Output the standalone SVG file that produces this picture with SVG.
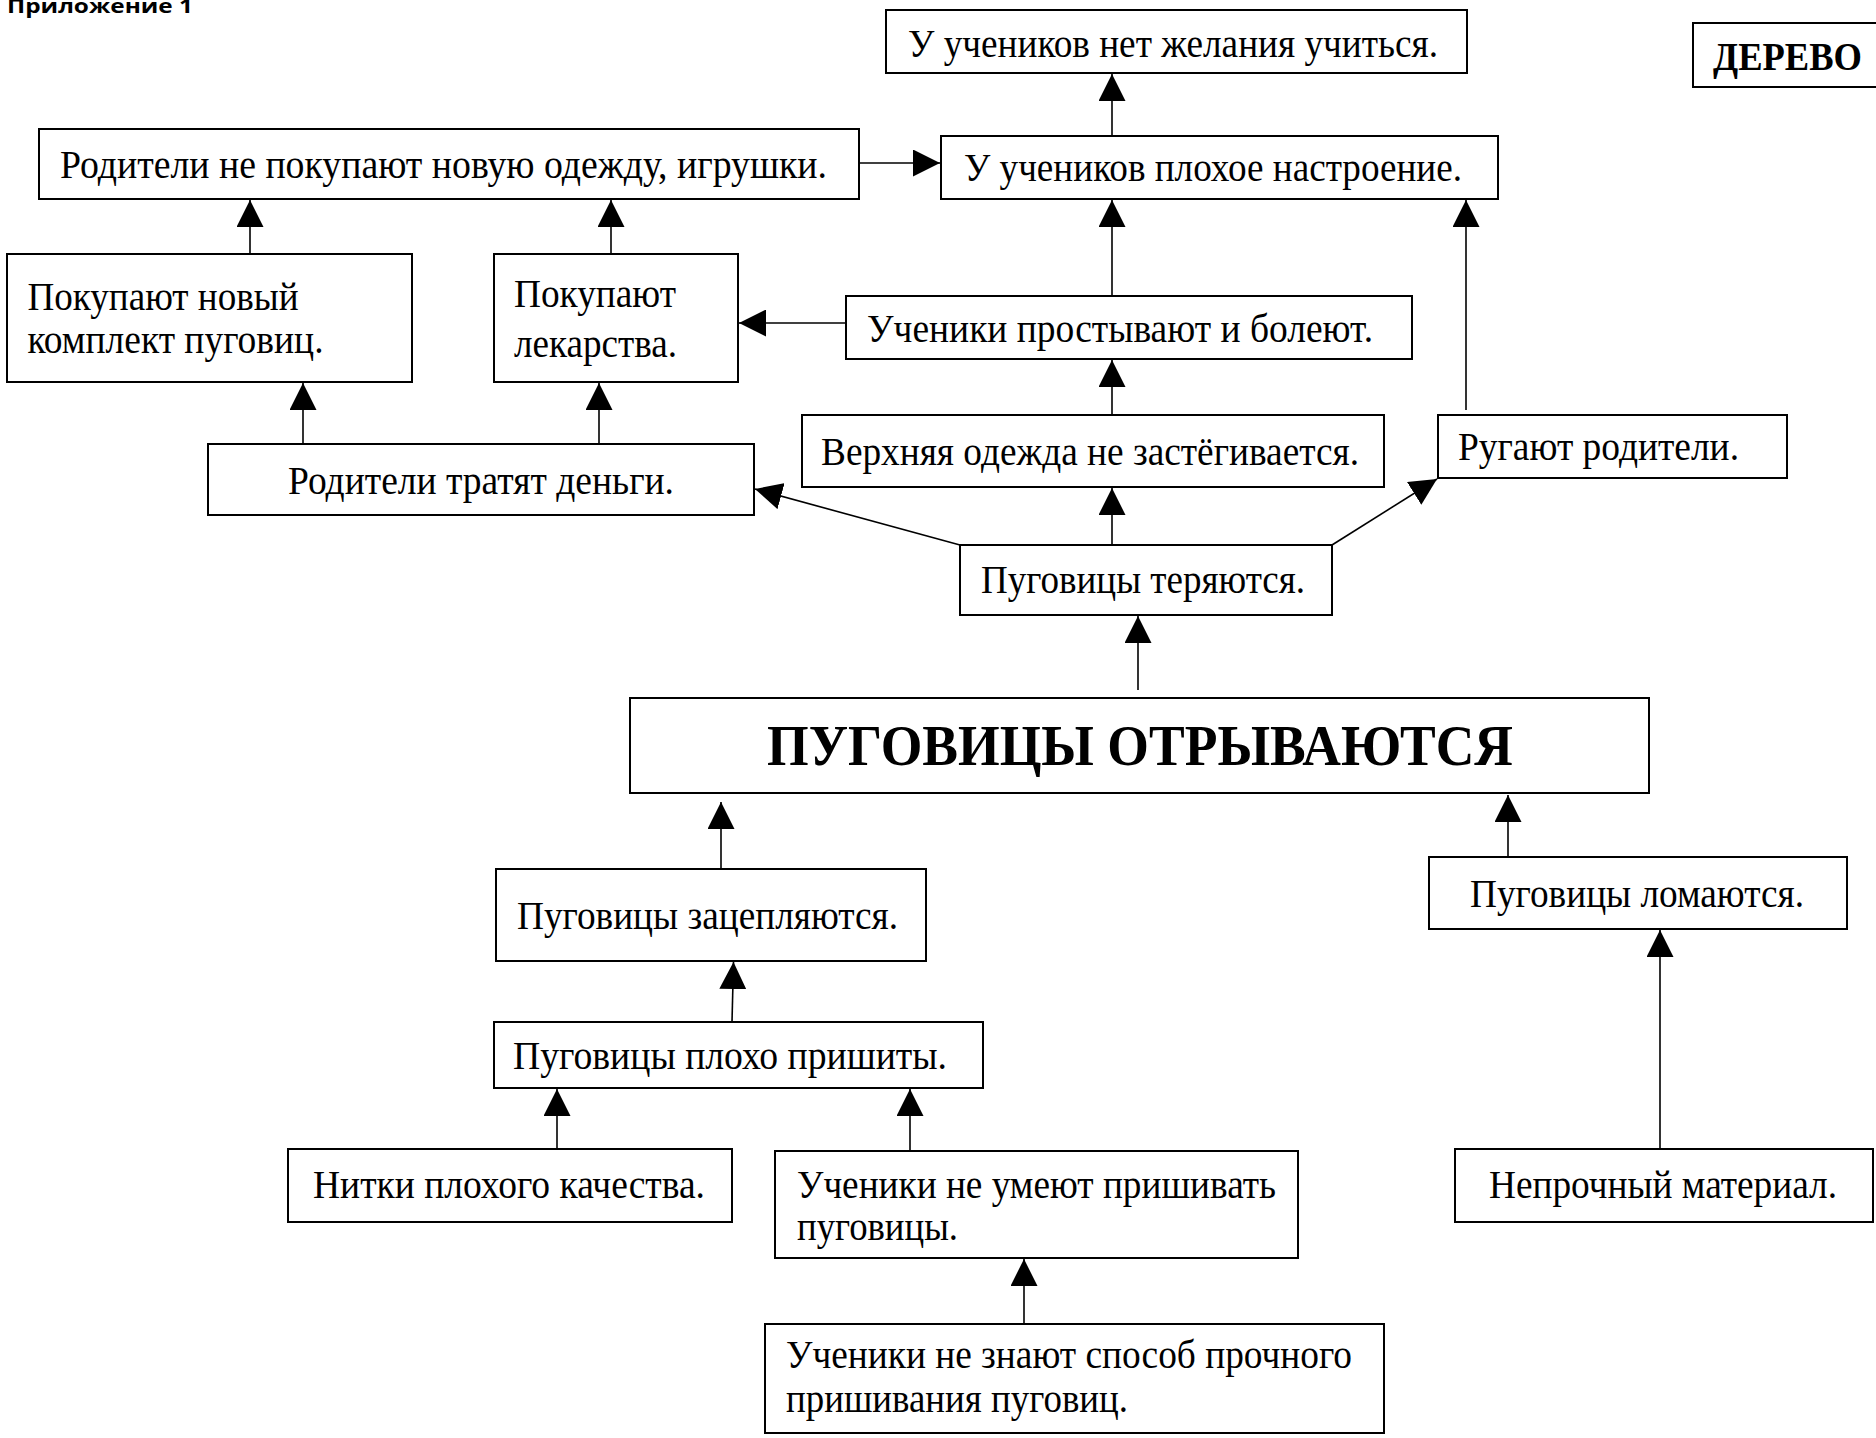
<svg xmlns="http://www.w3.org/2000/svg" width="1876" height="1438" viewBox="0 0 1876 1438">
<style>
.box{fill:#fff;stroke:#000;stroke-width:2}
.t{font-family:"Liberation Serif","Times New Roman",serif;font-size:40px;fill:#000}
.tb{font-family:"Liberation Serif","Times New Roman",serif;font-weight:bold;fill:#000}
.c{stroke:#000;stroke-width:1.6;fill:none;marker-end:url(#ah)}
</style>
<defs>
<marker id="ah" markerUnits="userSpaceOnUse" markerWidth="28" markerHeight="27" refX="27" refY="13.5" orient="auto">
<path d="M0,0 L27,13.5 L0,27 z" fill="#000"/>
</marker>
</defs>
<rect width="1876" height="1438" fill="#fff"/>
<text x="7" y="13" font-family="'Open Sans','Liberation Sans',sans-serif" font-weight="bold" font-size="20" textLength="186" lengthAdjust="spacingAndGlyphs">Приложение 1</text>

<g id="n-title">
<rect class="box" x="1693" y="23" width="200" height="64"/>
<text class="tb" x="1713" y="70" font-size="39" textLength="149" lengthAdjust="spacingAndGlyphs">ДЕРЕВО</text>
</g>
<g id="n-net-zhelaniya">
<rect class="box" x="886" y="10" width="581" height="63"/>
<text class="t" x="908" y="57" textLength="530" lengthAdjust="spacingAndGlyphs">У учеников нет желания учиться.</text>
</g>
<g id="n-nastroenie">
<rect class="box" x="941" y="136" width="557" height="63"/>
<text class="t" x="964" y="181" textLength="498" lengthAdjust="spacingAndGlyphs">У учеников плохое настроение.</text>
</g>
<g id="n-ne-pokupayut">
<rect class="box" x="39" y="129" width="820" height="70"/>
<text class="t" x="60" y="178" textLength="767" lengthAdjust="spacingAndGlyphs">Родители не покупают новую одежду, игрушки.</text>
</g>
<g id="n-komplekt">
<rect class="box" x="7" y="254" width="405" height="128"/>
<text class="t" x="27.5" y="310" textLength="271" lengthAdjust="spacingAndGlyphs">Покупают новый</text>
<text class="t" x="27.5" y="353" textLength="296" lengthAdjust="spacingAndGlyphs">комплект пуговиц.</text>
</g>
<g id="n-lekarstva">
<rect class="box" x="494" y="254" width="244" height="128"/>
<text class="t" x="514" y="307" textLength="162" lengthAdjust="spacingAndGlyphs">Покупают</text>
<text class="t" x="514" y="357" textLength="163" lengthAdjust="spacingAndGlyphs">лекарства.</text>
</g>
<g id="n-prostyvayut">
<rect class="box" x="846" y="296" width="566" height="63"/>
<text class="t" x="867" y="342" textLength="506" lengthAdjust="spacingAndGlyphs">Ученики простывают и болеют.</text>
</g>
<g id="n-tratyat">
<rect class="box" x="208" y="444" width="546" height="71"/>
<text class="t" x="288" y="494" textLength="386" lengthAdjust="spacingAndGlyphs">Родители тратят деньги.</text>
</g>
<g id="n-verkhnyaya">
<rect class="box" x="802" y="415" width="582" height="72"/>
<text class="t" x="821" y="465" textLength="538" lengthAdjust="spacingAndGlyphs">Верхняя одежда не застёгивается.</text>
</g>
<g id="n-rugayut">
<rect class="box" x="1438" y="415" width="349" height="63"/>
<text class="t" x="1458" y="460" textLength="281" lengthAdjust="spacingAndGlyphs">Ругают родители.</text>
</g>
<g id="n-teryayutsya">
<rect class="box" x="960" y="545" width="372" height="70"/>
<text class="t" x="981" y="593" textLength="324" lengthAdjust="spacingAndGlyphs">Пуговицы теряются.</text>
</g>
<g id="n-main">
<rect class="box" x="630" y="698" width="1019" height="95"/>
<text class="tb" x="767" y="765" font-size="56" textLength="746" lengthAdjust="spacingAndGlyphs">ПУГОВИЦЫ ОТРЫВАЮТСЯ</text>
</g>
<g id="n-zatseplyayutsya">
<rect class="box" x="496" y="869" width="430" height="92"/>
<text class="t" x="517" y="929" textLength="381" lengthAdjust="spacingAndGlyphs">Пуговицы зацепляются.</text>
</g>
<g id="n-lomayutsya">
<rect class="box" x="1429" y="857" width="418" height="72"/>
<text class="t" x="1470" y="907" textLength="334" lengthAdjust="spacingAndGlyphs">Пуговицы ломаются.</text>
</g>
<g id="n-prishity">
<rect class="box" x="494" y="1022" width="489" height="66"/>
<text class="t" x="513" y="1069" textLength="434" lengthAdjust="spacingAndGlyphs">Пуговицы плохо пришиты.</text>
</g>
<g id="n-nitki">
<rect class="box" x="288" y="1149" width="444" height="73"/>
<text class="t" x="313" y="1198" textLength="392" lengthAdjust="spacingAndGlyphs">Нитки плохого качества.</text>
</g>
<g id="n-ne-umeyut">
<rect class="box" x="775" y="1151" width="523" height="107"/>
<text class="t" x="797" y="1198" textLength="479" lengthAdjust="spacingAndGlyphs">Ученики не умеют пришивать</text>
<text class="t" x="797" y="1240" textLength="161" lengthAdjust="spacingAndGlyphs">пуговицы.</text>
</g>
<g id="n-neprochny">
<rect class="box" x="1455" y="1149" width="418" height="73"/>
<text class="t" x="1489" y="1198" textLength="348" lengthAdjust="spacingAndGlyphs">Непрочный материал.</text>
</g>
<g id="n-ne-znayut">
<rect class="box" x="765" y="1324" width="619" height="109"/>
<text class="t" x="786" y="1368" textLength="566" lengthAdjust="spacingAndGlyphs">Ученики не знают способ прочного</text>
<text class="t" x="786" y="1412" textLength="342" lengthAdjust="spacingAndGlyphs">пришивания пуговиц.</text>
</g>

<g id="connectors">
<line class="c" x1="859" y1="163" x2="940" y2="163"/>
<line class="c" x1="1112" y1="136" x2="1112" y2="74"/>
<line class="c" x1="1112" y1="296" x2="1112" y2="200"/>
<line class="c" x1="1466" y1="410" x2="1466" y2="200"/>
<line class="c" x1="846" y1="323" x2="739" y2="323"/>
<line class="c" x1="250" y1="254" x2="250" y2="200"/>
<line class="c" x1="611" y1="254" x2="611" y2="200"/>
<line class="c" x1="303" y1="444" x2="303" y2="383"/>
<line class="c" x1="599" y1="444" x2="599" y2="383"/>
<line class="c" x1="1112" y1="415" x2="1112" y2="360"/>
<line class="c" x1="960" y1="545" x2="755" y2="489"/>
<line class="c" x1="1112" y1="545" x2="1112" y2="488"/>
<line class="c" x1="1332" y1="545" x2="1437" y2="479"/>
<line class="c" x1="1138" y1="690" x2="1138" y2="616"/>
<line class="c" x1="721" y1="869" x2="721" y2="802"/>
<line class="c" x1="1508" y1="857" x2="1508" y2="795"/>
<line class="c" x1="732" y1="1022" x2="733.5" y2="962"/>
<line class="c" x1="557" y1="1149" x2="557" y2="1089"/>
<line class="c" x1="910" y1="1151" x2="910" y2="1089"/>
<line class="c" x1="1024" y1="1324" x2="1024" y2="1259"/>
<line class="c" x1="1660" y1="1149" x2="1660" y2="930"/>
</g>
</svg>
